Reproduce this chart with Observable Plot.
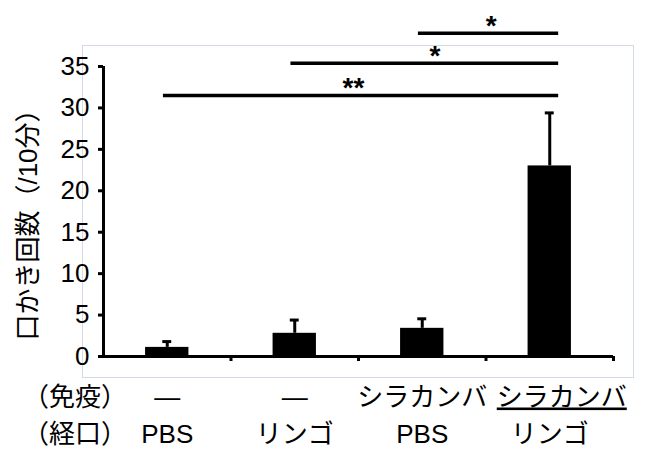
<!DOCTYPE html>
<html>
<head>
<meta charset="utf-8">
<script src="https://cdn.jsdelivr.net/npm/d3@7"></script>
<script src="https://cdn.jsdelivr.net/npm/@observablehq/plot@0.6"></script>
<style>
  html, body { margin: 0; padding: 0; background: #fff; }
  #chart { width: 646px; height: 454px; }
</style>
</head>
<body>
<div id="chart"></div>
<script>
// ---- data ----
const immune = ["—", "—", "シラカンバ", "シラカンバ"];
const oral = ["PBS", "リンゴ", "PBS", "リンゴ"];
const underlined = [false, false, false, true];
const means = [1.1, 2.8, 3.4, 23.0];
const errors = [0.7, 1.6, 1.15, 6.4];
const yTicks = [0, 5, 10, 15, 20, 25, 30, 35];
const rowLabels = ["（免疫）", "（経口）"];
const yTitle = "口かき回数（/10分）";
// significance brackets
const sigFrom = [2, 1, 0];
const sigTo = [3, 3, 3];
const sigY = [39.0, 35.4, 31.5];
const sigLabel = ["*", "*", "**"];
const sigLabelX = [2.54, 2.10, 1.46];

const data = means.map((m, i) => ({i, m, e: errors[i], immune: immune[i], oral: oral[i], u: underlined[i]}));
const sig = sigFrom.map((f, k) => ({from: f, to: sigTo[k], y: sigY[k], label: sigLabel[k], lx: sigLabelX[k]}));

const font = "'Liberation Sans', 'Noto Sans CJK JP', sans-serif";

const plot = Plot.plot({
  width: 646,
  height: 454,
  marginLeft: 103,
  marginRight: 33,
  marginTop: 66,
  marginBottom: 98,
  style: {fontFamily: font, fontSize: "26px", color: "#000", background: "#fff"},
  x: {type: "linear", domain: [-0.5, 3.5], axis: null},
  y: {domain: [0, 35], axis: null},
  marks: [
    Plot.frame({stroke: "#d3dbe6", strokeWidth: 1, insetLeft: -21, insetTop: -21, insetRight: -20, insetBottom: -21}),
    Plot.rectY(data, {x1: d => d.i - 0.17, x2: d => d.i + 0.17, y: "m", fill: "#000"}),
    Plot.ruleX(data, {x: "i", y1: "m", y2: d => d.m + d.e, stroke: "#000", strokeWidth: 3}),
    Plot.ruleY(data, {x1: d => d.i - 0.035, x2: d => d.i + 0.035, y: d => d.m + d.e, stroke: "#000", strokeWidth: 3}),
    Plot.ruleY([0], {x1: -0.5, x2: 3.5, stroke: "#000", strokeWidth: 3}),
    Plot.ruleX([-0.5], {y1: 0, y2: 35, stroke: "#000", strokeWidth: 3}),
    Plot.axisY({ticks: yTicks, tickSize: 5, tickPadding: 9, strokeWidth: 3, fontSize: 26, label: null}),
    Plot.axisX({ticks: [0.5, 1.5, 2.5, 3.5], tickSize: 5, strokeWidth: 3, tickFormat: () => "", label: null}),
    Plot.ruleY(sig, {x1: d => d.from - 0.03, x2: d => d.to + 0.07, y: "y", stroke: "#000", strokeWidth: 3.5}),
    Plot.text(sig, {x: "lx", y: "y", text: "label", dy: -7, fontSize: 28, fontWeight: "bold"}),
    Plot.text(data.filter(d => !d.u), {x: "i", text: "immune", frameAnchor: "bottom", dy: 49, fontSize: 26}),
    Plot.text(data.filter(d => d.u), {x: "i", text: "immune", frameAnchor: "bottom", dy: 49, dx: 12, fontSize: 26, ariaLabel: "underlined-label"}),
    Plot.text(data, {x: "i", text: "oral", frameAnchor: "bottom", dy: 86, fontSize: 26}),
    Plot.text([rowLabels[0]], {frameAnchor: "bottom-left", textAnchor: "middle", dx: -28.5, dy: 49, fontSize: 26}),
    Plot.text([rowLabels[1]], {frameAnchor: "bottom-left", textAnchor: "middle", dx: -28.5, dy: 86, fontSize: 26}),
    Plot.text([yTitle], {frameAnchor: "left", textAnchor: "middle", rotate: -90, dx: -75, dy: 7, fontSize: 26})
  ]
});
// underline the marked label(s)
const ul = data.filter(d => d.u).map(d => d.immune);
let ulTexts = Array.from(plot.querySelectorAll('g[aria-label="underlined-label"] text'));
if (ulTexts.length === 0) {
  const all = Array.from(plot.querySelectorAll("text")).filter(t => ul.includes(t.textContent));
  ulTexts = all.slice(-ul.length);
}
ulTexts.forEach(t => {
  t.setAttribute("text-decoration", "underline");
  t.style.textDecoration = "underline";
});
document.getElementById("chart").appendChild(plot);
</script>
</body>
</html>
